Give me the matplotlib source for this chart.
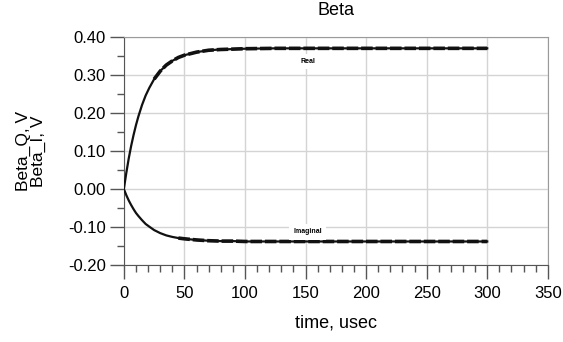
import numpy as np
import matplotlib.pyplot as plt
from matplotlib.ticker import MultipleLocator

# Values
time_us = [0, 2, 4, 6, 8, 10, 12, 15, 18, 21, 25, 30, 35, 40, 45, 50,
           60, 70, 80, 90, 100, 125, 150, 175, 200, 225, 250, 275, 300]
beta_real = [0.000, 0.042, 0.080, 0.113, 0.142, 0.168, 0.191, 0.221, 0.246,
             0.266, 0.289, 0.310, 0.326, 0.337, 0.346, 0.352, 0.360, 0.365,
             0.367, 0.368, 0.369, 0.370, 0.370, 0.370, 0.370, 0.370, 0.370,
             0.370, 0.370]
beta_imag = [0.000, -0.016, -0.030, -0.042, -0.053, -0.063, -0.071, -0.082,
             -0.092, -0.099, -0.108, -0.116, -0.122, -0.126, -0.129, -0.131,
             -0.134, -0.136, -0.137, -0.137, -0.138, -0.138, -0.138, -0.138,
             -0.138, -0.138, -0.138, -0.138, -0.138]
x_ticks = [0, 50, 100, 150, 200, 250, 300, 350]
y_ticks = [-0.20, -0.10, 0.00, 0.10, 0.20, 0.30, 0.40]

plt.rcParams['font.family'] = ['Liberation Sans', 'DejaVu Sans']

fig = plt.figure(figsize=(5.63, 3.42), dpi=100)
ax = fig.add_axes([0.220, 0.225, 0.753, 0.667])

# thin solid trace underneath, thick dashes on top once the curve flattens
for series, start in ((beta_real, 10), (beta_imag, 14)):
    ax.plot(time_us, series, color='#111111', lw=1.6, zorder=3)
    ax.plot(time_us[start:], series[start:], color='#111111', lw=2.6,
            dashes=(3.2, 0.8), zorder=4)

ax.text(152, 0.335, 'Real', fontsize=5, fontweight='bold', ha='center', va='center',
        bbox=dict(facecolor='white', edgecolor='none', pad=3), zorder=5)
ax.text(152, -0.113, 'Imaginal', fontsize=5, fontweight='bold', ha='center', va='center',
        bbox=dict(facecolor='white', edgecolor='none', pad=3), zorder=5)

ax.set_xlim(0, 350)
ax.set_ylim(-0.20, 0.40)
ax.set_xticks(x_ticks)
ax.set_yticks(y_ticks)
ax.set_yticklabels([f'{v:.2f}' for v in y_ticks])
ax.xaxis.set_minor_locator(MultipleLocator(10))
ax.yaxis.set_minor_locator(MultipleLocator(0.05))
ax.tick_params(which='major', length=10, width=1, color='#555555', labelsize=12, pad=3)
ax.tick_params(which='minor', length=5, width=1, color='#555555')
ax.tick_params(axis='x', which='major', pad=5)

ax.grid(True, which='major', color='#d4d4d4', lw=1)
ax.set_axisbelow(True)
for side in ('top', 'right'):
    ax.spines[side].set_color('#9a9a9a')
for side in ('left', 'bottom'):
    ax.spines[side].set_color('#555555')

ax.set_title('Beta', fontsize=13, pad=16)
ax.set_xlabel('time, usec', fontsize=13, labelpad=10)
ax.set_ylabel('Beta_Q, V\nBeta_I, V', fontsize=12.5, labelpad=16, linespacing=0.95)

fig.savefig('out.png', dpi=100)
